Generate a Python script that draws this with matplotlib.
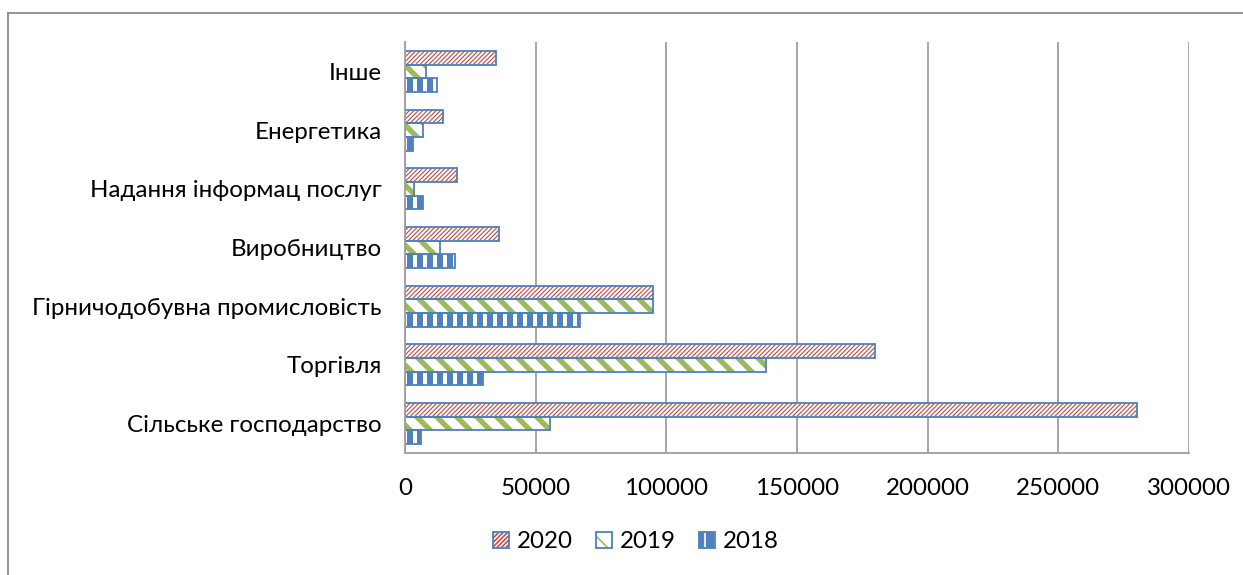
import matplotlib
matplotlib.use("Agg")
import matplotlib.pyplot as plt
from matplotlib.patches import Patch
from matplotlib.lines import Line2D
from matplotlib.legend_handler import HandlerTuple
import numpy as np

# Sectors, listed bottom to top as they appear on the category axis
categories = [
    "Сільське господарство",
    "Торгівля",
    "Гірничодобувна промисловість",
    "Виробництво",
    "Надання інформац послуг",
    "Енергетика",
    "Інше",
]
values_2020 = [280000, 180000, 95000, 36000, 20000, 14500, 35000]
values_2019 = [55500, 138000, 95000, 13300, 3600, 6700, 8000]
values_2018 = [6000, 30000, 67000, 19000, 7000, 3200, 12300]
years = ["2020", "2019", "2018"]
x_ticks = [0, 50000, 100000, 150000, 200000, 250000, 300000]

DPI = 120
W, H = 1243, 575
BORDER_BLUE = "#4F81BD"
RED = "#C0504D"
GREEN = "#9BBB59"
GRID = "#A0A0A0"

plt.rcParams["font.family"] = ["Lato", "DejaVu Sans"]

fig = plt.figure(figsize=(W / DPI, H / DPI), dpi=DPI)
ax = fig.add_axes([405 / W, 1 - 453 / H, (1189 - 405) / W, (453 - 42) / H])

pos = np.arange(len(categories))
bh = 0.233

# (values, offset, face, hatch, hatch colour, hatch width in pt)
styles = [
    (values_2020, +bh, "white", "/" * 9, RED, 0.7),
    (values_2019, 0.0, "white", "\\" * 2, GREEN, 3.2),
    (values_2018, -bh, BORDER_BLUE, "||", "white", 2.4),
]


def with_hatch_width(artists, hlw):
    for a in artists:
        if hasattr(a, "set_hatch_linewidth"):
            a.set_hatch_linewidth(hlw)


def hatched_bars(ax, vals, off, face, hatch, hcolor, hlw):
    with plt.rc_context({"hatch.linewidth": hlw}):
        bars = ax.barh(pos + off, vals, height=bh, color=face,
                       edgecolor=hcolor, hatch=hatch, linewidth=0, zorder=3)
    with_hatch_width(bars, hlw)
    ax.barh(pos + off, vals, height=bh, facecolor="none",
            edgecolor=BORDER_BLUE, linewidth=1.1, zorder=4)


for vals, off, face, hatch, hcolor, hlw in styles:
    hatched_bars(ax, vals, off, face, hatch, hcolor, hlw)

ax.set_xlim(0, 300000)
ax.set_ylim(-0.5, len(categories) - 0.5)
ax.set_xticks(x_ticks)
ax.set_xticklabels([str(t) for t in x_ticks])
ax.set_yticks(pos)
ax.set_yticklabels(categories)
ax.tick_params(axis="both", length=0, labelsize=14.5, colors="black")
ax.tick_params(axis="x", pad=15)
ax.tick_params(axis="y", pad=14)

ax.grid(axis="x", color=GRID, linewidth=1.1, zorder=0)
ax.set_axisbelow(True)
for side in ("top", "right"):
    ax.spines[side].set_visible(False)
for side in ("left", "bottom"):
    ax.spines[side].set_color(GRID)
    ax.spines[side].set_linewidth(1.1)
    ax.spines[side].set_zorder(5)

# Legend keys: pattern layer plus blue outline, overlaid in one box
handles = []
for vals, off, face, hatch, hcolor, hlw in styles:
    with plt.rc_context({"hatch.linewidth": hlw}):
        fill = Patch(facecolor=face, edgecolor=hcolor, hatch=hatch, linewidth=0)
    with_hatch_width([fill], hlw)
    outline = Patch(facecolor="none", edgecolor=BORDER_BLUE, linewidth=1.1)
    handles.append((fill, outline))
leg = fig.legend(handles=handles, labels=years, loc="center", ncol=3,
                 bbox_to_anchor=(636 / W, 1 - 542 / H), frameon=False,
                 fontsize=14.5, handlelength=0.65, handleheight=0.6,
                 handletextpad=0.35, columnspacing=0.95,
                 handler_map={tuple: HandlerTuple(ndivide=1, pad=0)})

# Outer chart frame
fig.add_artist(Line2D([8 / W, 8 / W], [0, 1 - 13 / H], transform=fig.transFigure,
                      color="#8C8C8C", linewidth=1.1))
fig.add_artist(Line2D([8 / W, 1], [1 - 13 / H, 1 - 13 / H], transform=fig.transFigure,
                      color="#8C8C8C", linewidth=1.1))

fig.savefig("out.png", dpi=DPI)
